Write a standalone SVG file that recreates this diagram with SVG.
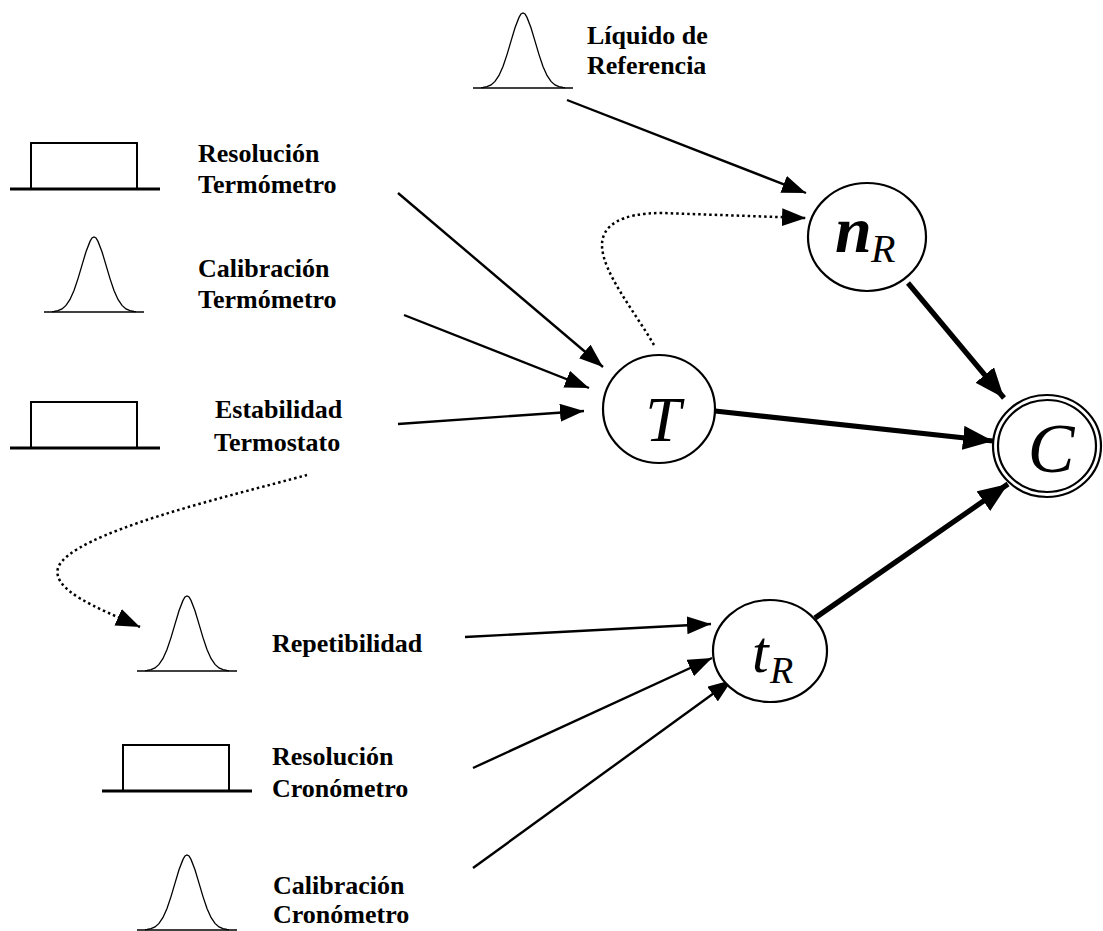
<svg xmlns="http://www.w3.org/2000/svg" width="1103" height="931" viewBox="0 0 1103 931">
<style>
.lbl{font-family:"Liberation Serif","Times New Roman",serif;font-weight:bold;font-size:26px;fill:#000}
.sym{font-family:"Liberation Serif","Times New Roman",serif;font-style:italic;fill:#000}
.node{fill:#fff;stroke:#000;stroke-width:2.2}
.thin{stroke:#000;stroke-width:2.4;fill:none}
.thick{stroke:#000;stroke-width:5.2;fill:none}
.dot{stroke:#000;stroke-width:2.5;fill:none;stroke-dasharray:2.5 3}
.gauss{stroke:#000;stroke-width:1.3;fill:none}
.base{stroke:#000;stroke-width:1.6}
.box{fill:none;stroke:#000;stroke-width:2}
.boxbase{stroke:#000;stroke-width:3}
</style>
<defs>
<marker id="ah" viewBox="0 0 24 18" refX="24" refY="9" markerWidth="24" markerHeight="18" markerUnits="userSpaceOnUse" orient="auto"><path d="M0,0 L24,9 L0,18 z" fill="#000"/></marker>
<marker id="ahb" viewBox="0 0 30 24" refX="30" refY="12" markerWidth="30" markerHeight="24" markerUnits="userSpaceOnUse" orient="auto"><path d="M0,0 L30,12 L0,24 z" fill="#000"/></marker>
<g id="gauss">
<polyline class="gauss" points="-42,-0.3 -40,-0.5 -36,-1.3 -32,-3.1 -28,-6.6 -24,-12.6 -20,-21.6 -16,-33.4 -12,-46.9 -8,-60.3 -4,-70.6 -2,-74 0,-75 2,-74 4,-70.6 8,-60.3 12,-46.9 16,-33.4 20,-21.6 24,-12.6 28,-6.6 32,-3.1 36,-1.3 40,-0.5 42,-0.3"/>
<line class="base" x1="-50" y1="0" x2="50" y2="0"/>
</g>
<g id="box">
<rect class="box" x="0" y="0" width="106" height="46"/>
<line class="boxbase" x1="-21" y1="46" x2="129" y2="46"/>
</g>
</defs>

<g id="connectors">
<line class="thin" x1="567" y1="100" x2="806" y2="193" marker-end="url(#ah)"/>
<path class="dot" d="M654,345 C635,312 602,272 602,245 C602,226 620,213 662,213 L806,218" marker-end="url(#ah)"/>
<line class="thin" x1="398" y1="193" x2="603" y2="367" marker-end="url(#ah)"/>
<line class="thin" x1="404" y1="315" x2="589" y2="388" marker-end="url(#ah)"/>
<line class="thin" x1="398" y1="424" x2="584" y2="411" marker-end="url(#ah)"/>
<path class="dot" d="M307,475 C230,496 70,533 58,568 C52,590 95,607 140,627" marker-end="url(#ah)"/>
<line class="thin" x1="465" y1="637" x2="711" y2="624" marker-end="url(#ah)"/>
<line class="thin" x1="473" y1="768" x2="712" y2="658" marker-end="url(#ah)"/>
<line class="thin" x1="473" y1="868" x2="732" y2="680" marker-end="url(#ah)"/>
<line class="thick" x1="715" y1="411" x2="993" y2="441" marker-end="url(#ahb)"/>
<line class="thick" x1="908" y1="283" x2="1004" y2="398" marker-end="url(#ahb)"/>
<line class="thick" x1="815" y1="618" x2="1008" y2="484" marker-end="url(#ahb)"/>
</g>

<g id="src-liquido">
<use href="#gauss" x="523" y="88"/>
<text class="lbl" x="587" y="44">Líquido de</text>
<text class="lbl" x="587" y="74">Referencia</text>
</g>
<g id="src-resol-termo">
<use href="#box" x="31" y="143"/>
<text class="lbl" x="198" y="162">Resolución</text>
<text class="lbl" x="198" y="193">Termómetro</text>
</g>
<g id="src-calib-termo">
<use href="#gauss" x="94" y="312"/>
<text class="lbl" x="198" y="277">Calibración</text>
<text class="lbl" x="198" y="308">Termómetro</text>
</g>
<g id="src-estab">
<use href="#box" x="31" y="402"/>
<text class="lbl" x="215" y="418">Estabilidad</text>
<text class="lbl" x="214" y="451">Termostato</text>
</g>
<g id="src-repet">
<use href="#gauss" x="187" y="671"/>
<text class="lbl" x="272" y="652">Repetibilidad</text>
</g>
<g id="src-resol-crono">
<use href="#box" x="123" y="745"/>
<text class="lbl" x="272" y="765">Resolución</text>
<text class="lbl" x="272" y="797">Cronómetro</text>
</g>
<g id="src-calib-crono">
<use href="#gauss" x="187" y="930"/>
<text class="lbl" x="273" y="894">Calibración</text>
<text class="lbl" x="273" y="923">Cronómetro</text>
</g>

<g id="node-nR">
<ellipse class="node" cx="867" cy="237" rx="59" ry="54"/>
<text class="sym" x="835" y="252" font-size="66" font-weight="bold">n</text>
<text class="sym" x="871" y="262" font-size="40">R</text>
</g>
<g id="node-T">
<ellipse class="node" cx="659" cy="409" rx="56" ry="54"/>
<text class="sym" x="663" y="441" font-size="64" text-anchor="middle">T</text>
</g>
<g id="node-C">
<ellipse class="node" cx="1047" cy="446" rx="54" ry="51"/>
<ellipse class="node" cx="1047" cy="446" rx="49" ry="46"/>
<text class="sym" x="1051" y="472" font-size="70" text-anchor="middle">C</text>
</g>
<g id="node-tR">
<ellipse class="node" cx="770" cy="651" rx="57" ry="51"/>
<text class="sym" x="752" y="672" font-size="60">t</text>
<text class="sym" x="770" y="683" font-size="38">R</text>
</g>
</svg>
